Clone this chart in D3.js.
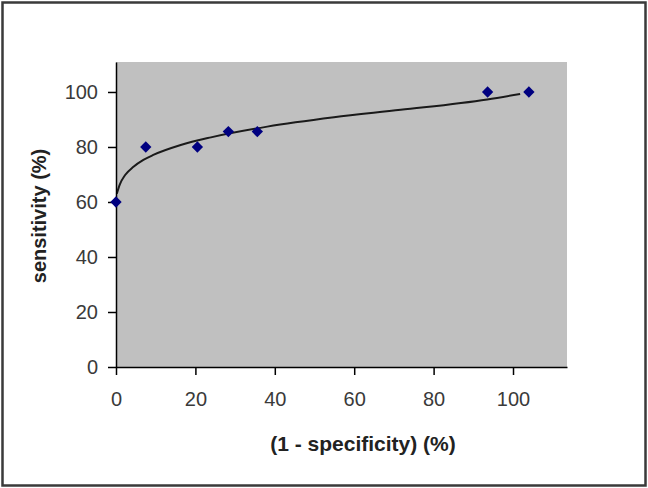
<!DOCTYPE html>
<html>
<head>
<meta charset="utf-8">
<script src="https://cdn.jsdelivr.net/npm/d3@7"></script>
<style>
  body { margin: 0; background: #fff; }
  svg { display: block; font-family: "Liberation Sans", Arial, sans-serif; }
</style>
</head>
<body>
<div id="chart"></div>
<script>
// data
var fprValues = [0, 7.5, 20.5, 28.3, 35.6, 93.6, 104];
var sensValues = [60, 80, 80, 85.6, 85.6, 100, 100];

// trendline as drawn in the picture
var trendX = [0.2, 1, 2.3, 4.4, 6.9, 9.4, 16.3, 23.9, 38.1, 54.9, 71.7, 93.5, 101.8];
var trendY = [63, 66.5, 69.8, 72.8, 75.3, 77.1, 80.7, 83.5, 87.4, 90.8, 93.5, 97.3, 99.3];

var xTicks = [0, 20, 40, 60, 80, 100];
var yTicks = [0, 20, 40, 60, 80, 100];

var width = 648, height = 488;
var margin = {left: 116, top: 62, right: 81, bottom: 121};
var w = width - margin.left - margin.right,
    h = height - margin.top - margin.bottom;

var svg = d3.select("#chart").append("svg")
    .attr("width", width).attr("height", height);

// outer frame
svg.append("rect")
    .attr("x", 2.5).attr("y", 2.5)
    .attr("width", width - 5).attr("height", height - 5)
    .attr("fill", "#fff").attr("stroke", "#3a3a3a").attr("stroke-width", 2.5);

var g = svg.append("g")
    .attr("transform", "translate(" + margin.left + "," + margin.top + ")");

var x = d3.scaleLinear().domain([0, 113.6]).range([0, w]);
var y = d3.scaleLinear().domain([0, 110.9]).range([h, 0]);

g.append("rect")
    .attr("width", w).attr("height", h)
    .attr("fill", "#c0c0c0");

// trendline
var line = d3.line()
    .x(function(d) { return x(d[0]); })
    .y(function(d) { return y(d[1]); })
    .curve(d3.curveMonotoneX);

g.append("path")
    .datum(trendX.map(function(v, i) { return [v, trendY[i]]; }))
    .attr("d", line)
    .attr("fill", "none")
    .attr("stroke", "#1a1a1a")
    .attr("stroke-width", 2);

// axes
var xAxis = g.append("g")
    .attr("transform", "translate(0," + h + ")")
    .call(d3.axisBottom(x).tickValues(xTicks).tickSize(8).tickPadding(17).tickSizeOuter(0));

var yAxis = g.append("g")
    .call(d3.axisLeft(y).tickValues(yTicks).tickSize(8).tickPadding(10).tickSizeOuter(0));

[xAxis, yAxis].forEach(function(a) {
  a.select(".domain").attr("stroke", "#000").attr("stroke-width", 1.5);
  a.selectAll(".tick line").attr("stroke", "#000").attr("stroke-width", 1.5);
  a.selectAll(".tick text")
      .attr("fill", "#3a3a3a")
      .style("font-size", "20px")
      .style("font-family", "'Liberation Sans', Arial, sans-serif");
});

// markers
var diamond = d3.symbol().type(d3.symbolSquare).size(64);
g.selectAll(".pt")
    .data(fprValues.map(function(v, i) { return [v, sensValues[i]]; }))
    .enter().append("path")
    .attr("class", "pt")
    .attr("d", diamond)
    .attr("transform", function(d) {
      return "translate(" + x(d[0]) + "," + y(d[1]) + ") rotate(45)";
    })
    .attr("fill", "#000080");

// axis titles
svg.append("text")
    .attr("x", 363).attr("y", 451)
    .attr("text-anchor", "middle")
    .attr("fill", "#222")
    .style("font-size", "21px")
    .style("font-weight", "bold")
    .text("(1 - specificity) (%)");

svg.append("text")
    .attr("transform", "translate(46,216) rotate(-90)")
    .attr("text-anchor", "middle")
    .attr("fill", "#222")
    .style("font-size", "20px")
    .style("font-weight", "bold")
    .text("sensitivity (%)");
</script>
</body>
</html>
